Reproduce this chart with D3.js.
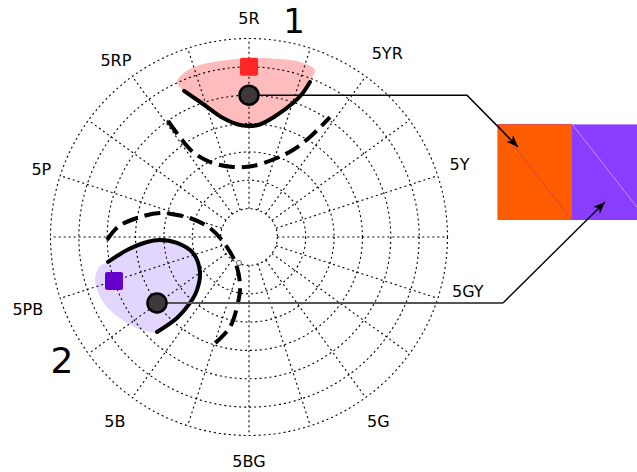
<!DOCTYPE html>
<html>
<head>
<meta charset="utf-8">
<script src="https://cdn.jsdelivr.net/npm/d3@7"></script>
<style>
  body { margin: 0; background: #fff; }
  text { font-family: "DejaVu Sans", sans-serif; }
</style>
</head>
<body>
<div id="chart"></div>
<script>
// hue labels round the circle and the angle (deg, clockwise from top) where each sits
var hueLabels = ["5R", "5YR", "5Y", "5GY", "5G", "5BG", "5B", "5PB", "5P", "5RP"];
var hueLabelAngles = [0, 37, 71, 104, 145, 180, 216, 252, 288, 323];
var hueLabelRadius = [15.4, 16.2, 15.7, 15.9, 15.9, 15.8, 16.1, 16.4, 15.4, 15.6];
var chromaRings = [2, 4, 6, 8, 10, 12, 14];
var spokeAngles = d3.range(0, 360, 18);

// sample 1 (red) in chroma units (u to the right, v up)
var sample1Square = [0, 12.0];
var sample1Point = [0, 10.0];
var sample1Solid = [[-4.58, 10.30], [-3.24, 9.38], [-1.83, 8.39], [-0.63, 7.90], [0.63, 7.90],
                    [1.97, 8.60], [3.10, 9.45], [3.74, 10.08], [4.30, 10.93]];
var sample1Top = [[4.44, 11.21], [4.65, 11.78], [3.60, 12.34], [2.19, 12.55], [0, 12.62],
                  [-2.05, 12.41], [-3.46, 12.13], [-4.51, 11.64], [-5.08, 10.93]];
var sample1Dashed = [[-5.71, 8.18], [-4.72, 6.84], [-3.95, 5.99], [-2.75, 5.29], [-1.13, 4.94],
                     [0.28, 5.01], [1.97, 5.57], [3.10, 6.14], [4.30, 7.05], [5.71, 8.46]];

// sample 2 (purple)
var sample2Square = [-9.52, -3.10];
var sample2Point = [-6.49, -4.65];
var sample2Solid = [[-9.94, -1.76], [-8.60, -0.92], [-7.19, -0.35], [-6.28, -0.21], [-5.08, -0.42],
                    [-3.95, -1.13], [-3.46, -2.47], [-3.67, -3.74], [-4.16, -4.65], [-5.08, -5.71],
                    [-6.49, -6.70]];
var sample2Outer = [[-7.33, -6.63], [-8.74, -5.99], [-10.01, -4.94], [-10.65, -3.88],
                    [-10.86, -2.89], [-10.51, -2.05]];
var sample2Dashed = [[-10.01, -0.21], [-9.24, 0.71], [-7.90, 1.34], [-6.28, 1.69], [-5.08, 1.55],
                     [-4.16, 1.34], [-2.75, 0.63], [-1.55, -0.71], [-0.85, -2.12], [-0.63, -3.53],
                     [-0.78, -4.65], [-1.34, -6.35], [-2.54, -7.62]];
var neutralPoint = [-0.71, -1.83];

var swatchColors = ["#ff5c00", "#8b3dff"];

function init() {
    var w = 637, h = 472;
    var cx = 249, cy = 237, R = 198.5;

    var svg = d3.select("#chart").append("svg")
        .attr("width", w).attr("height", h);

    var x = d3.scaleLinear().domain([-14, 14]).range([cx - R, cx + R]);
    var y = d3.scaleLinear().domain([-14, 14]).range([cy + R, cy - R]);
    var r = d3.scaleLinear().domain([0, 14]).range([0, R]);
    var ang = function (deg) { return deg * Math.PI / 180; };

    var line = d3.line().x(function (d) { return x(d[0]); }).y(function (d) { return y(d[1]); })
        .curve(d3.curveCatmullRom);
    var area = d3.line().x(function (d) { return x(d[0]); }).y(function (d) { return y(d[1]); })
        .curve(d3.curveCatmullRomClosed);

    // regions
    svg.append("path").attr("d", area(sample1Solid.concat(sample1Top)))
        .attr("fill", "#ff3030").attr("fill-opacity", 0.32);
    svg.append("path").attr("d", area(sample2Solid.concat(sample2Outer)))
        .attr("fill", "#8c5cff").attr("fill-opacity", 0.25);

    // grid
    var grid = svg.append("g").attr("fill", "none").attr("stroke", "#000")
        .attr("stroke-width", 1.1).attr("stroke-dasharray", "2,3");
    grid.selectAll("circle").data(chromaRings).enter().append("circle")
        .attr("cx", x(0)).attr("cy", y(0)).attr("r", function (d) { return r(d); });
    grid.selectAll("line").data(spokeAngles).enter().append("line")
        .attr("x1", function (d) { return x(0) + r(2) * Math.sin(ang(d)); })
        .attr("y1", function (d) { return y(0) - r(2) * Math.cos(ang(d)); })
        .attr("x2", function (d) { return x(0) + r(14) * Math.sin(ang(d)); })
        .attr("y2", function (d) { return y(0) - r(14) * Math.cos(ang(d)); });

    // hue labels
    svg.selectAll("text.hue").data(hueLabels).enter().append("text")
        .attr("class", "hue")
        .attr("x", function (d, i) { return x(0) + r(hueLabelRadius[i]) * Math.sin(ang(hueLabelAngles[i])); })
        .attr("y", function (d, i) { return y(0) - r(hueLabelRadius[i]) * Math.cos(ang(hueLabelAngles[i])); })
        .attr("dy", "0.36em")
        .attr("text-anchor", "middle")
        .attr("font-size", 16)
        .text(function (d) { return d; });

    // curves
    [sample1Dashed, sample2Dashed].forEach(function (pts) {
        svg.append("path").attr("d", line(pts)).attr("fill", "none")
            .attr("stroke", "#000").attr("stroke-width", 4)
            .attr("stroke-dasharray", "16,7").attr("stroke-linecap", "butt");
    });
    [sample1Solid, sample2Solid].forEach(function (pts) {
        svg.append("path").attr("d", line(pts)).attr("fill", "none")
            .attr("stroke", "#000").attr("stroke-width", 4).attr("stroke-linecap", "round");
    });

    svg.append("circle").attr("cx", x(neutralPoint[0])).attr("cy", y(neutralPoint[1]))
        .attr("r", 2.5).attr("fill", "#fff").attr("stroke", "#666").attr("stroke-width", 1);

    // swatches
    var sx = 497, sy = 124, sw = 75, sh = 96;
    swatchColors.forEach(function (c, i) {
        svg.append("rect").attr("x", sx + i * sw).attr("y", sy).attr("width", sw).attr("height", sh)
            .attr("fill", c);
        svg.append("line").attr("x1", sx + i * sw).attr("y1", sy)
            .attr("x2", sx + (i + 1) * sw).attr("y2", sy + sh)
            .attr("stroke", i == 0 ? "#d04a40" : "#b995ff").attr("stroke-width", 1);
    });
    svg.append("line").attr("x1", sx).attr("y1", sy + 0.5).attr("x2", sx + sw).attr("y2", sy + 0.5)
        .attr("stroke", "#e05050").attr("stroke-width", 1);
    svg.append("line").attr("x1", sx + 0.5).attr("y1", sy).attr("x2", sx + 0.5).attr("y2", sy + sh)
        .attr("stroke", "#c89cff").attr("stroke-width", 1);
    svg.append("line").attr("x1", sx + sw).attr("y1", sy + 0.5).attr("x2", w).attr("y2", sy + 0.5)
        .attr("stroke", "#b68cff").attr("stroke-width", 1);

    // connectors
    svg.append("defs").append("marker").attr("id", "arr")
        .attr("viewBox", "0 0 10 10").attr("refX", 10).attr("refY", 5)
        .attr("markerWidth", 12).attr("markerHeight", 12).attr("markerUnits", "userSpaceOnUse")
        .attr("orient", "auto")
        .append("path").attr("d", "M0,1 L10,5 L0,9 L3,5 Z").attr("fill", "#000");

    var p1 = [x(sample1Point[0]), y(sample1Point[1])];
    svg.append("polyline")
        .attr("points", [p1, [467, p1[1]], [518, 147]].join(" "))
        .attr("fill", "none").attr("stroke", "#000").attr("stroke-width", 1.5)
        .attr("marker-end", "url(#arr)");
    var p2 = [x(sample2Point[0]), y(sample2Point[1])];
    svg.append("line").attr("x1", p2[0]).attr("y1", p2[1]).attr("x2", 503).attr("y2", p2[1])
        .attr("stroke", "#555").attr("stroke-width", 2);
    svg.append("line").attr("x1", 503).attr("y1", p2[1]).attr("x2", 605).attr("y2", 202)
        .attr("stroke", "#000").attr("stroke-width", 1.4).attr("marker-end", "url(#arr)");

    // sample markers
    [[sample1Square, "#ff2626"], [sample2Square, "#6600cc"]].forEach(function (s) {
        svg.append("rect").attr("x", x(s[0][0]) - 9).attr("y", y(s[0][1]) - 9)
            .attr("width", 18).attr("height", 18).attr("rx", 2).attr("fill", s[1]);
    });
    [sample1Point, sample2Point].forEach(function (p) {
        svg.append("circle").attr("cx", x(p[0])).attr("cy", y(p[1])).attr("r", 9.5)
            .attr("fill", "#3e3838").attr("stroke", "#000").attr("stroke-width", 2.5);
    });

    // sample numbers
    svg.append("text").attr("x", 294).attr("y", 33).attr("text-anchor", "middle")
        .attr("font-family", "DejaVu Sans Condensed, DejaVu Sans")
        .attr("font-size", 34).text("1");
    svg.append("text").attr("x", 62).attr("y", 373).attr("text-anchor", "middle")
        .attr("font-family", "DejaVu Sans Condensed, DejaVu Sans")
        .attr("font-size", 36).text("2");
}
window.onload = init;
</script>
</body>
</html>
